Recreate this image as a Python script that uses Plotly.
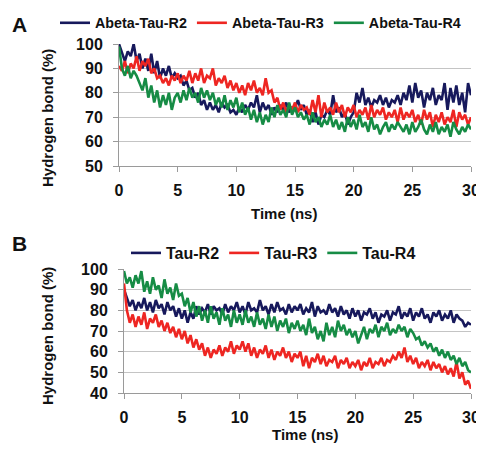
import plotly.graph_objects as go

# time axis (ns), sampled every 0.25 ns
time_ns = [i * 0.25 for i in range(121)]

# Panel A: Abeta-Tau complexes, hydrogen bond (%)
abeta_tau_r2 = [
    100, 96, 93, 97, 95, 100, 93, 96, 90, 94, 89, 96, 88, 93, 86, 90, 87, 91, 86, 88,
    86, 87, 83, 85, 81, 82, 78, 80, 75, 77, 73, 76, 73, 75, 72, 76, 74, 75, 72, 73,
    71, 74, 72, 75, 73, 76, 74, 79, 72, 76, 73, 75, 71, 74, 72, 75, 73, 76, 72, 74,
    74, 77, 73, 75, 71, 73, 68, 72, 67, 71, 70, 73, 71, 79, 72, 74, 70, 72, 67, 70,
    72, 80, 76, 82, 75, 78, 74, 77, 76, 79, 75, 78, 74, 77, 76, 79, 75, 80, 77, 83,
    76, 84, 78, 81, 74, 80, 77, 82, 75, 79, 77, 84, 73, 82, 76, 83, 75, 80, 72, 84,
    79,
]
abeta_tau_r3 = [
    91, 89, 93, 88, 92, 90, 95, 89, 93, 91, 94, 88, 90, 86, 87, 84, 86, 83, 87, 85,
    88, 84, 87, 85, 89, 84, 88, 85, 90, 84, 87, 86, 90, 83, 86, 84, 87, 82, 85, 81,
    84, 80, 83, 79, 84, 81, 85, 80, 82, 79, 86, 80, 81, 76, 78, 73, 76, 72, 75, 73,
    76, 72, 75, 73, 74, 71, 77, 72, 79, 70, 76, 72, 74, 71, 76, 72, 75, 70, 74, 72,
    75, 70, 73, 71, 74, 69, 75, 70, 73, 71, 74, 69, 72, 70, 73, 68, 74, 69, 72, 70,
    73, 68, 71, 67, 73, 69, 72, 66, 71, 68, 72, 67, 70, 68, 73, 66, 72, 69, 71, 67,
    70,
]
abeta_tau_r4 = [
    99, 90, 87, 91, 86, 89, 87, 84, 81, 86, 78, 83, 76, 81, 74, 79, 75, 80, 73, 78,
    80, 76, 81, 77, 82, 78, 80, 76, 82, 78, 81, 77, 80, 75, 78, 74, 79, 73, 77, 74,
    78, 72, 76, 71, 74, 69, 73, 68, 72, 67, 71, 68, 74, 70, 75, 71, 73, 70, 76, 71,
    74, 70, 72, 69, 71, 67, 72, 68, 70, 66, 69, 67, 71, 66, 69, 65, 68, 64, 70, 66,
    69, 65, 71, 66, 68, 64, 70, 65, 67, 63, 66, 68, 64, 67, 65, 68, 66, 64, 67, 63,
    68, 64, 66, 69, 65, 63, 67, 64, 68, 63, 66, 64, 67, 62, 68, 65, 63, 66, 64, 67,
    65,
]

# Panel B: Tau alone, hydrogen bond (%)
tau_r2 = [
    90, 86, 82, 85, 80, 84, 81, 86, 80, 84, 79, 85, 81, 83, 78, 84, 80, 82, 77, 81,
    76, 80, 74, 79, 76, 82, 78, 81, 79, 83, 78, 82, 80, 81, 78, 83, 79, 82, 80, 84,
    79, 82, 78, 84, 80, 81, 79, 85, 80, 82, 78, 83, 79, 84, 80, 81, 78, 83, 79, 82,
    80, 83, 78, 81, 79, 84, 77, 82, 79, 80, 78, 83, 79, 81, 77, 82, 78, 80, 76, 81,
    77, 80, 75, 79, 78, 81, 76, 79, 74, 78, 77, 80, 75, 79, 78, 82, 76, 79, 77, 81,
    75, 79, 77, 81, 76, 78, 74, 79, 77, 80, 75, 78, 76, 80, 74, 78, 76, 75, 72, 74,
    73,
]
tau_r3 = [
    93, 80, 74, 78, 72, 77, 73, 79, 71, 76, 74, 78, 72, 75, 70, 74, 69, 72, 67, 71,
    66, 70, 64, 68, 62, 66, 61, 64, 58, 62, 57, 61, 59, 63, 58, 62, 60, 65, 59, 63,
    61, 65, 60, 64, 58, 62, 57, 61, 59, 63, 57, 61, 56, 60, 58, 62, 57, 60, 55, 59,
    57, 60, 53, 58, 52, 57, 55, 59, 54, 58, 53, 56, 55, 58, 52, 56, 54, 57, 52, 55,
    53, 56, 51, 55, 53, 57, 52, 55, 54, 57, 53, 56, 55, 58, 56, 60, 57, 62, 55, 58,
    54, 57, 52, 55, 53, 56, 51, 55, 52, 54, 50, 53, 49, 52, 48, 55, 47, 50, 44, 46,
    42,
]
tau_r4 = [
    99, 93, 96, 91, 97, 93, 99, 89, 94, 88, 96, 90, 92, 86, 95, 88, 91, 85, 93, 87,
    88, 82, 86, 79, 84, 77, 82, 75, 80, 74, 82, 76, 79, 73, 81, 75, 78, 72, 80, 74,
    78, 73, 80, 74, 77, 72, 79, 73, 76, 71, 78, 72, 77, 70, 75, 72, 76, 69, 74, 71,
    75, 70, 73, 68, 76, 69, 72, 66, 70, 65, 74, 68, 72, 67, 75, 70, 73, 68, 71, 67,
    70, 64, 68, 72, 66, 71, 69, 73, 67, 72, 70, 74, 68, 71, 69, 73, 70, 72, 67, 71,
    69, 66, 67, 63, 65, 62, 64, 60, 62, 58, 61, 57, 60, 56, 58, 54, 57, 53, 55, 51,
    50,
]

names_a = ["Abeta-Tau-R2", "Abeta-Tau-R3", "Abeta-Tau-R4"]
names_b = ["Tau-R2", "Tau-R3", "Tau-R4"]
x_ticks = [0, 5, 10, 15, 20, 25, 30]
y_ticks_a = [50, 60, 70, 80, 90, 100]
y_ticks_b = [40, 50, 60, 70, 80, 90, 100]

colors = ["#17195c", "#ee2622", "#168c45"]
# page body has an 8 px default margin; size the figure to the remaining window
OFF = 8
W, H = 484 - OFF, 452 - OFF
FONT = "Liberation Sans, Arial, sans-serif"

fig = go.Figure()
for name, ys, c in zip(names_a, [abeta_tau_r2, abeta_tau_r3, abeta_tau_r4], colors):
    fig.add_trace(go.Scatter(x=time_ns, y=ys, mode="lines", name=name,
                             line=dict(color=c, width=2.6), xaxis="x", yaxis="y",
                             legend="legend"))
for name, ys, c in zip(names_b, [tau_r2, tau_r3, tau_r4], colors):
    fig.add_trace(go.Scatter(x=time_ns, y=ys, mode="lines", name=name,
                             line=dict(color=c, width=2.6), xaxis="x2", yaxis="y2",
                             legend="legend2"))

def px_x(p):
    return (p - OFF) / W

def px_y(p):
    return 1 - (p - OFF) / H

tickfont = dict(family=FONT, size=16, color="#111111", weight="bold")
axis_common = dict(showline=True, linecolor="#9a9a9a", linewidth=1,
                   ticks="outside", ticklen=5, tickcolor="#9a9a9a",
                   tickfont=tickfont, zeroline=False)

fig.update_layout(
    width=W, height=H, margin=dict(l=0, r=0, t=0, b=0, autoexpand=False),
    paper_bgcolor="white", plot_bgcolor="white",
    font=dict(family=FONT, color="#111111"),
    xaxis=dict(domain=[px_x(119), px_x(471)], range=[0, 30], tickvals=x_ticks,
               showgrid=False, anchor="y", ticklabelstandoff=5, **axis_common),
    yaxis=dict(domain=[px_y(166), px_y(44)], range=[50, 100], tickvals=y_ticks_a,
               showgrid=True, gridcolor="#c4c4c4", anchor="x", ticklabelstandoff=7,
               **axis_common),
    xaxis2=dict(domain=[px_x(124), px_x(471)], range=[0, 30], tickvals=x_ticks,
                showgrid=False, anchor="y2", ticklabelstandoff=5, **axis_common),
    yaxis2=dict(domain=[px_y(393), px_y(269)], range=[40, 100], tickvals=y_ticks_b,
                showgrid=True, gridcolor="#c4c4c4", anchor="x2", ticklabelstandoff=7,
                **axis_common),
    legend=dict(orientation="h", x=px_x(55), y=px_y(23), xanchor="left", yanchor="middle",
                font=dict(family=FONT, size=14.3, color="#111111", weight="bold"),
                bgcolor="rgba(0,0,0,0)", itemclick=False),
    legend2=dict(orientation="h", x=px_x(126), y=px_y(253), xanchor="left", yanchor="middle",
                 font=dict(family=FONT, size=16, color="#111111", weight="bold"),
                 bgcolor="rgba(0,0,0,0)", itemclick=False),
    showlegend=True,
)

ann_font = dict(family=FONT, size=15, color="#111111", weight="bold")
annotations = [
    dict(text="A", x=px_x(19), y=px_y(25), font=dict(family=FONT, size=21, color="#111111", weight="bold")),
    dict(text="B", x=px_x(19), y=px_y(243), font=dict(family=FONT, size=21, color="#111111", weight="bold")),
    dict(text="Time (ns)", x=px_x(284), y=px_y(213), font=ann_font),
    dict(text="Time (ns)", x=px_x(305), y=px_y(434), font=ann_font),
    dict(text="Hydrogen bond (%)", x=px_x(47), y=px_y(118), textangle=-90, font=ann_font),
    dict(text="Hydrogen bond (%)", x=px_x(47), y=px_y(336), textangle=-90, font=ann_font),
]
for a in annotations:
    a.update(xref="paper", yref="paper", showarrow=False, xanchor="center", yanchor="middle")
fig.update_layout(annotations=annotations)

fig.write_html("out.html")
